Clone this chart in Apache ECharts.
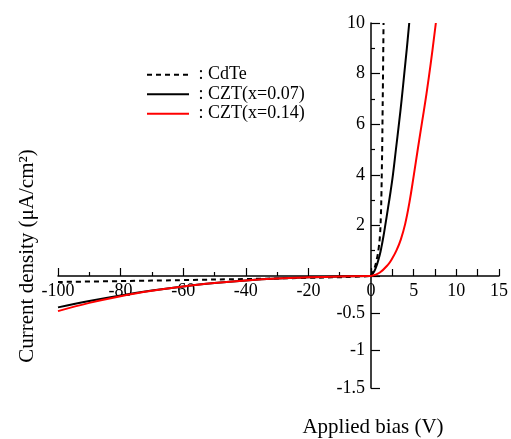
<!DOCTYPE html>
<html>
<head>
<meta charset="utf-8">
<script src="https://cdn.jsdelivr.net/npm/echarts@6/dist/echarts.min.js"></script>
<style>html,body{margin:0;padding:0;background:#fff}#c{width:511px;height:439px}</style>
</head>
<body>
<div id="c"></div>
<script>
// Series names
const seriesNames = ['CdTe', 'CZT(x=0.07)', 'CZT(x=0.14)'];
// Reverse-bias branch (x < 0), [V, µA/cm²]
const cdteNeg = [[-100,-0.08],[-80,-0.068],[-60,-0.055],[-40,-0.04],[-20,-0.025],[-5,-0.01],[0,0]];
const czt07Neg = [[-100,-0.42],[-90,-0.335],[-80,-0.26],[-70,-0.195],[-60,-0.14],[-50,-0.095],[-40,-0.06],[-30,-0.034],[-20,-0.018],[-10,-0.007],[0,0]];
const czt14Neg = [[-100,-0.47],[-90,-0.36],[-80,-0.27],[-70,-0.198],[-60,-0.14],[-50,-0.095],[-40,-0.06],[-30,-0.034],[-20,-0.018],[-10,-0.007],[0,0]];
// Forward-bias branch (x > 0)
const cdtePos = [[0,0],[0.4,0.3],[0.7,0.7],[0.9,1.1],[1.05,1.6],[1.15,2.3],[1.22,3.2],[1.27,4.2],[1.31,5],[1.36,6.5],[1.41,8],[1.47,10]];
const czt07Pos = [[0,0],[0.4,0.2],[0.7,0.45],[1.0,0.8],[1.2,1.1],[1.45,1.55],[1.67,2],[2.0,2.7],[2.3,3.35],[2.57,4],[2.92,5],[3.27,6],[3.6,7],[3.9,8],[4.2,9],[4.48,10]];
const czt14Pos = [[0,0],[1,0.13],[2,0.45],[2.5,0.7],[3,1.02],[3.5,1.45],[4,2.05],[4.5,2.9],[5,3.95],[5.5,5.05],[6,6.12],[6.5,7.2],[7,8.4],[7.6,10]];
// Axis ranges / ticks
const xNegRange = [-100, 0], xNegStep = 20;
const xPosRange = [0, 15], xPosStep = 5;
const yNegRange = [-1.5, 0], yNegStep = 0.5;
const yPosRange = [0, 10], yPosStep = 2;
const xTitle = 'Applied bias (V)';
const yTitle = 'Current density (μA/cm²)';

const FONT = 'Liberation Serif, Times New Roman, serif';
const axisLine = {show: true, onZero: false, lineStyle: {color: '#000', width: 1.5}};
const lbl = {color: '#000', fontFamily: FONT, fontSize: 18};

const chart = echarts.init(document.getElementById('c'), null, {renderer: 'canvas'});
const lineStyles = [
  {color: '#000', width: 2, type: [5, 4]},
  {color: '#000', width: 2, type: 'solid'},
  {color: '#ff0000', width: 2, type: 'solid'}
];
function mk(name, idx, data, ax) {
  return {
    name: name, type: 'line', data: data, xAxisIndex: ax, yAxisIndex: ax,
    symbol: 'none', smooth: 0.4, clip: true,
    lineStyle: lineStyles[idx], itemStyle: {color: lineStyles[idx].color},
    z: 2 + idx, animation: false
  };
}
chart.setOption({
  animation: false,
  grid: [
    {left: 58, top: 276, width: 313, height: 112},
    {left: 371, top: 23, width: 128, height: 253}
  ],
  xAxis: [
    {gridIndex: 0, type: 'value', min: xNegRange[0], max: xNegRange[1], interval: xNegStep, position: 'top',
     axisLine: axisLine, splitLine: {show: false},
     axisTick: {show: true, inside: false, length: 8, lineStyle: {color: '#000', width: 1.2}},
     minorTick: {show: true, splitNumber: 2, length: 4, lineStyle: {color: '#000', width: 1.2}},
     axisLabel: Object.assign({inside: true, margin: 6, showMaxLabel: false, formatter: v => v === 0 ? '' : String(v)}, lbl)},
    {gridIndex: 1, type: 'value', min: xPosRange[0], max: xPosRange[1], interval: xPosStep, position: 'bottom',
     axisLine: axisLine, splitLine: {show: false},
     axisTick: {show: true, inside: true, length: 7, lineStyle: {color: '#000', width: 1.2}},
     minorTick: {show: true, splitNumber: 2, length: 7, lineStyle: {color: '#000', width: 1.2}},
     axisLabel: Object.assign({margin: 6}, lbl)}
  ],
  yAxis: [
    {gridIndex: 0, type: 'value', min: yNegRange[0], max: yNegRange[1], interval: yNegStep, position: 'right',
     axisLine: axisLine, splitLine: {show: false},
     axisTick: {show: true, inside: false, length: 9, lineStyle: {color: '#000', width: 1.2}},
     axisLabel: Object.assign({inside: true, margin: 6, showMaxLabel: false}, lbl)},
    {gridIndex: 1, type: 'value', min: yPosRange[0], max: yPosRange[1], interval: yPosStep, position: 'left',
     axisLine: axisLine, splitLine: {show: false},
     axisTick: {show: true, inside: true, length: 9, lineStyle: {color: '#000', width: 1.2}},
     minorTick: {show: true, splitNumber: 2, length: 4, lineStyle: {color: '#000', width: 1.2}},
     axisLabel: Object.assign({margin: 6, showMinLabel: false}, lbl)}
  ],
  legend: {
    data: seriesNames, orient: 'vertical', left: 141, top: 60,
    itemWidth: 42, itemHeight: 14, itemGap: 0, selectedMode: false,
    itemStyle: {opacity: 0},
    formatter: n => ' : ' + n,
    textStyle: {color: '#000', fontFamily: FONT, fontSize: 18, lineHeight: 19.5}
  },
  graphic: [
    {type: 'text', x: 373, y: 427, style: {text: xTitle, fill: '#000', font: '21px ' + FONT, textAlign: 'center', textVerticalAlign: 'middle'}},
    {type: 'text', x: 27, y: 256, rotation: Math.PI / 2, style: {text: yTitle, fill: '#000', font: '21px ' + FONT, textAlign: 'center', textVerticalAlign: 'middle'}}
  ],
  series: [
    mk(seriesNames[0], 0, cdteNeg, 0), mk(seriesNames[0], 0, cdtePos, 1),
    mk(seriesNames[1], 1, czt07Neg, 0), mk(seriesNames[1], 1, czt07Pos, 1),
    mk(seriesNames[2], 2, czt14Neg, 0), mk(seriesNames[2], 2, czt14Pos, 1)
  ]
});
</script>
</body>
</html>
